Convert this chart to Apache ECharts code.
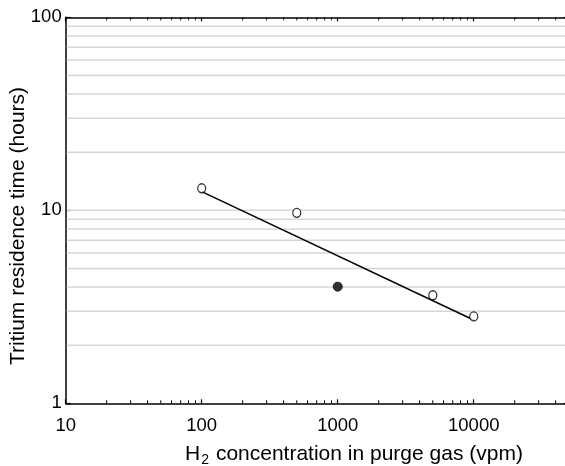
<!DOCTYPE html>
<html>
<head>
<meta charset="utf-8">
<script src="https://cdn.jsdelivr.net/npm/echarts@6/dist/echarts.min.js"></script>
<style>
html,body{margin:0;padding:0;background:#fff;overflow:hidden;width:565px;height:466px;}
#chart{width:576px;height:466px;}
</style>
</head>
<body>
<div id="chart"></div>
<script>
// ---- data ----
const xTickLabels = [10, 100, 1000, 10000];
const yTickLabels = [1, 10, 100];
const openX = [100, 500, 5000, 10000];
const openY = [13.0, 9.7, 3.63, 2.82];
const filledX = [1000];
const filledY = [4.02];
const fitX = [100, 10000];
const fitY = [12.5, 2.7];
const gridYValues = [2, 3, 4, 5, 6, 7, 8, 9, 10, 20, 30, 40, 50, 60, 70, 80, 90];
const minorX = [20, 30, 40, 50, 60, 70, 80, 90,
                200, 300, 400, 500, 600, 700, 800, 900,
                2000, 3000, 4000, 5000, 6000, 7000, 8000, 9000,
                20000, 30000, 40000];
const xMin = 10, xMax = 50000, yMin = 1, yMax = 100;
const xTitle = 'H{sub|2} concentration in purge gas (vpm)';
const yTitle = 'Tritium residence time (hours)';

const chart = echarts.init(document.getElementById('chart'), null, {renderer: 'canvas'});
const FONT = '"Liberation Sans", Arial, sans-serif';

const zip = (a, b) => a.map((v, i) => [v, b[i]]);

const axisLineStyle = {color: '#000', width: 1.5};

const option = {
  animation: false,
  backgroundColor: '#fff',
  grid: {left: 65.7, right: 7.2, top: 17.3, bottom: 62.7, containLabel: false},
  xAxis: [{
    type: 'log', logBase: 10, min: xMin, max: xMax,
    axisLine: {show: true, lineStyle: axisLineStyle, onZero: false},
    axisTick: {show: true, inside: true, length: 4, lineStyle: {color: '#000', width: 1.2}},
    splitLine: {show: false},
    minorTick: {show: false},
    axisLabel: {
      show: true, margin: 13, color: '#000', fontFamily: FONT, fontSize: 18.5,
      showMaxLabel: false,
      formatter: v => (xTickLabels.indexOf(Math.round(v)) >= 0 ? String(Math.round(v)) : '')
    }
  }, {
    type: 'log', logBase: 10, min: xMin, max: xMax, position: 'top',
    axisLine: {show: true, lineStyle: axisLineStyle, onZero: false},
    axisTick: {show: true, inside: true, length: 4, lineStyle: {color: '#000', width: 1.2}},
    splitLine: {show: false},
    axisLabel: {show: false}
  }],
  yAxis: [{
    type: 'log', logBase: 10, min: yMin, max: yMax,
    axisLine: {show: true, lineStyle: axisLineStyle, onZero: false},
    axisTick: {show: true, inside: true, length: 5, lineStyle: {color: '#000', width: 1.2}},
    splitLine: {show: false},
    axisLabel: {
      show: true, margin: 4, color: '#000', fontFamily: FONT, fontSize: 18.5,
      formatter: v => (yTickLabels.indexOf(Math.round(v)) >= 0 ? String(Math.round(v)) : '')
    }
  }, {
    type: 'log', logBase: 10, min: yMin, max: yMax, position: 'right',
    axisLine: {show: true, lineStyle: axisLineStyle, onZero: false},
    axisTick: {show: true, inside: true, length: 5, lineStyle: {color: '#000', width: 1.2}},
    splitLine: {show: false},
    axisLabel: {show: false}
  }],
  graphic: [{
    type: 'text', x: 354, y: 454, z: 10,
    style: {
      text: xTitle, fill: '#000', font: '21px ' + FONT,
      align: 'center', verticalAlign: 'middle',
      rich: {sub: {fontSize: 14, fontFamily: FONT, fill: '#000', padding: [12, 1, 0, 1]}}
    }
  }, {
    type: 'text', x: 18, y: 226, rotation: Math.PI / 2, z: 10,
    style: {
      text: yTitle, fill: '#000', font: '21px ' + FONT,
      align: 'center', verticalAlign: 'middle'
    }
  }],
  series: [{
    // horizontal grid lines
    type: 'custom', xAxisIndex: 0, yAxisIndex: 0, z: 1, silent: true,
    data: gridYValues.map(v => [xMin, v]),
    renderItem: (params, api) => {
      const y = api.value(1);
      const p1 = api.coord([xMin, y]);
      const p2 = api.coord([xMax, y]);
      return {type: 'line', shape: {x1: p1[0] + 1, y1: p1[1], x2: p2[0], y2: p2[1]},
              style: {stroke: '#d6d6d6', lineWidth: 1.5}};
    }
  }, {
    // minor x ticks (bottom and top)
    type: 'custom', xAxisIndex: 0, yAxisIndex: 0, z: 3, silent: true,
    data: minorX.map(v => [v, yMin]),
    renderItem: (params, api) => {
      const x = api.value(0);
      const b = api.coord([x, yMin]);
      const t = api.coord([x, yMax]);
      return {type: 'group', children: [
        {type: 'line', shape: {x1: b[0], y1: b[1], x2: b[0], y2: b[1] - 3}, style: {stroke: '#000', lineWidth: 1}},
        {type: 'line', shape: {x1: t[0], y1: t[1], x2: t[0], y2: t[1] + 3}, style: {stroke: '#000', lineWidth: 1}}
      ]};
    }
  }, {
    type: 'line', z: 4, data: zip(fitX, fitY), symbol: 'none',
    lineStyle: {color: '#000', width: 1.5}, silent: true
  }, {
    type: 'scatter', z: 5, data: zip(openX, openY), symbol: 'circle', symbolSize: [8, 9],
    itemStyle: {color: '#fff', borderColor: '#000', borderWidth: 1.3}
  }, {
    type: 'scatter', z: 5, data: zip(filledX, filledY), symbol: 'circle', symbolSize: [9, 9],
    itemStyle: {color: '#000', borderColor: '#000', borderWidth: 1}
  }]
};
chart.setOption(option);
</script>
</body>
</html>
